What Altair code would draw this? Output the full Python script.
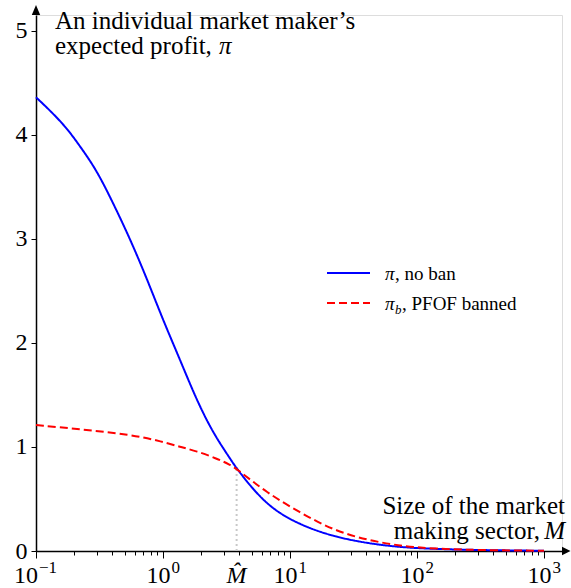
import altair as alt
import pandas as pd

# Market size M (log scale) and expected profit of a single market maker
m_values = [0.1, 0.164, 0.222, 0.3, 0.406, 0.55, 0.745, 1.0, 1.36, 1.84, 2.49,
            3.37, 3.8, 6.55, 12.0, 21.8, 40.2, 73.5, 135.0, 316.0, 1000.0]
profit_no_ban = [4.36, 4.11, 3.89, 3.66, 3.34, 3.00, 2.62, 2.22, 1.84, 1.45, 1.13,
                 0.89, 0.79, 0.43, 0.25, 0.14, 0.075, 0.036, 0.02, 0.008, 0.002]

mb_values = [0.1, 0.222, 0.55, 1.0, 1.36, 1.84, 2.63, 3.37, 3.8, 6.55, 12.0,
             21.8, 40.2, 73.5, 135.0, 316.0, 1000.0]
profit_banned = [1.21, 1.17, 1.12, 1.05, 1.00, 0.96, 0.89, 0.83, 0.79, 0.56, 0.37,
                 0.20, 0.106, 0.048, 0.022, 0.008, 0.002]

# Crossing point of the two curves
m_hat = 3.8
profit_at_m_hat = 0.79

series_names = ["no ban", "PFOF banned"]
series_colors = ["#0000ff", "#ff0000"]
series_dash = [[1, 0], [8, 4]]

x_major = [0.1, 1, 10, 100, 1000]
x_exponents = ["−1", "0", "1", "2", "3"]
x_minor = [round(k * 10.0 ** e / 10, 6) for e in range(0, 4) for k in range(2, 10)]
y_ticks = [0, 1, 2, 3, 4, 5]

W, H = 526, 536
FONT = "Liberation Serif"
FS = 24      # tick labels
TS = 25      # axis titles
LS = 19      # legend

df = pd.concat([
    pd.DataFrame({"M": m_values, "profit": profit_no_ban, "series": series_names[0]}),
    pd.DataFrame({"M": mb_values, "profit": profit_banned, "series": series_names[1]}),
])

major_test = " || ".join(f"datum.value == {v}" for v in x_major)

x_scale = alt.Scale(type="log", domain=[0.1, 1387], nice=False)
y_scale = alt.Scale(domain=[0, 5.15], nice=False, zero=False)
color_scale = alt.Scale(domain=series_names, range=series_colors)
dash_scale = alt.Scale(domain=series_names, range=series_dash)

x_axis = alt.Axis(
    values=x_major + x_minor, labels=False, title=None, grid=False,
    domainColor="black", domainWidth=1.5, tickColor="black", tickWidth=1,
    tickSize={"condition": {"test": major_test, "value": 7}, "value": 4},
)
y_axis = alt.Axis(
    values=y_ticks, format="d", title=None, grid=False,
    domainColor="black", domainWidth=1.5, tickColor="black", tickWidth=1, tickSize=5,
    labelFont=FONT, labelFontSize=FS, labelColor="black", labelPadding=4,
    labelFlush=False,
)

lines = alt.Chart(df).mark_line(strokeWidth=2, interpolate="basis").encode(
    x=alt.X("M:Q", scale=x_scale, axis=x_axis),
    y=alt.Y("profit:Q", scale=y_scale, axis=y_axis),
    color=alt.Color("series:N", scale=color_scale, legend=None),
    strokeDash=alt.StrokeDash("series:N", scale=dash_scale, legend=None),
)

# Powers-of-ten tick labels: base "10" plus a raised exponent
tick_df = pd.DataFrame({"M": x_major, "base": ["10"] * len(x_major), "exp": x_exponents})
first_tick = tick_df.iloc[:1]
other_ticks = tick_df.iloc[1:]


def tick_labels(data, dx_base, dx_exp):
    base = alt.Chart(data).mark_text(
        font=FONT, fontSize=FS, align="right", baseline="alphabetic", dx=dx_base, color="black"
    ).encode(x=alt.X("M:Q", scale=x_scale), y=alt.value(H + 32), text="base:N")
    exp = alt.Chart(data).mark_text(
        font=FONT, fontSize=17, align="left", baseline="alphabetic", dx=dx_exp, color="black"
    ).encode(x=alt.X("M:Q", scale=x_scale), y=alt.value(H + 22), text="exp:N")
    return [base, exp]


x_labels = tick_labels(first_tick, 2, 3) + tick_labels(other_ticks, 7.5, 8.5)

hat_df = pd.DataFrame({"M": [m_hat], "y0": [0.0], "y1": [profit_at_m_hat], "lab": ["M̂"]})
hat_rule = alt.Chart(hat_df).mark_rule(color="#c8c8c8", strokeWidth=2, strokeDash=[2, 3]).encode(
    x=alt.X("M:Q", scale=x_scale), y=alt.Y("y0:Q", scale=y_scale), y2="y1:Q"
)
hat_label = alt.Chart(hat_df).mark_text(
    font=FONT, fontSize=FS, fontStyle="italic", baseline="alphabetic", align="center", color="black"
).encode(x=alt.X("M:Q", scale=x_scale), y=alt.value(H + 32), text="lab:N")


def txt(s, x, y, align="left", size=TS, style="normal"):
    return alt.Chart(pd.DataFrame({"t": [s]})).mark_text(
        font=FONT, fontSize=size, fontStyle=style, align=align, baseline="alphabetic", color="black"
    ).encode(x=alt.value(x), y=alt.value(y), text="t:N")


# Axis titles
titles = [
    txt("An individual market maker’s", 19, 14),
    txt("expected profit,", 19, 39),
    txt("π", 183, 39, style="italic"),
    txt("Size of the market", 529, 499, align="right"),
    txt("making sector,", 504, 524, align="right"),
    txt("M", 529, 524, align="right", style="italic"),
]

# Legend
legend_rows = pd.DataFrame({"series": series_names, "y": [258, 288]})
legend_lines = alt.Chart(legend_rows).mark_rule(strokeWidth=2).encode(
    x=alt.value(291), x2=alt.value(334), y=alt.Y("y:Q", scale=None),
    color=alt.Color("series:N", scale=color_scale, legend=None),
    strokeDash=alt.StrokeDash("series:N", scale=dash_scale, legend=None),
)
legend_text = [
    txt("π", 349, 265, size=LS, style="italic"),
    txt(", no ban", 359, 265, size=LS),
    txt("π", 349, 295, size=LS, style="italic"),
    txt("b", 359, 299, size=13, style="italic"),
    txt(", PFOF banned", 366, 295, size=LS),
]

# Arrow heads at the ends of both axes
arrow_df = pd.DataFrame({"k": [0]})
y_arrow = alt.Chart(arrow_df).mark_point(
    shape="M0,-1L0.42,0L-0.42,0Z", size=400, filled=True, color="black", opacity=1, strokeWidth=0
).encode(x=alt.value(0), y=alt.value(0))
x_arrow = alt.Chart(arrow_df).mark_point(
    shape="M0.85,0L0,-0.42L0,0.42Z", size=400, filled=True, color="black", opacity=1, strokeWidth=0
).encode(x=alt.value(W), y=alt.value(H))

chart = alt.layer(
    hat_rule, lines, hat_label, *x_labels, legend_lines, *legend_text, *titles, y_arrow, x_arrow
).properties(
    width=W, height=H, autosize="none",
    padding={"left": 36, "top": 15, "right": 9, "bottom": 37},
).configure_view(stroke=None).configure(background="white")

chart.save("out.html", embed_options={"renderer": "svg", "actions": False})
